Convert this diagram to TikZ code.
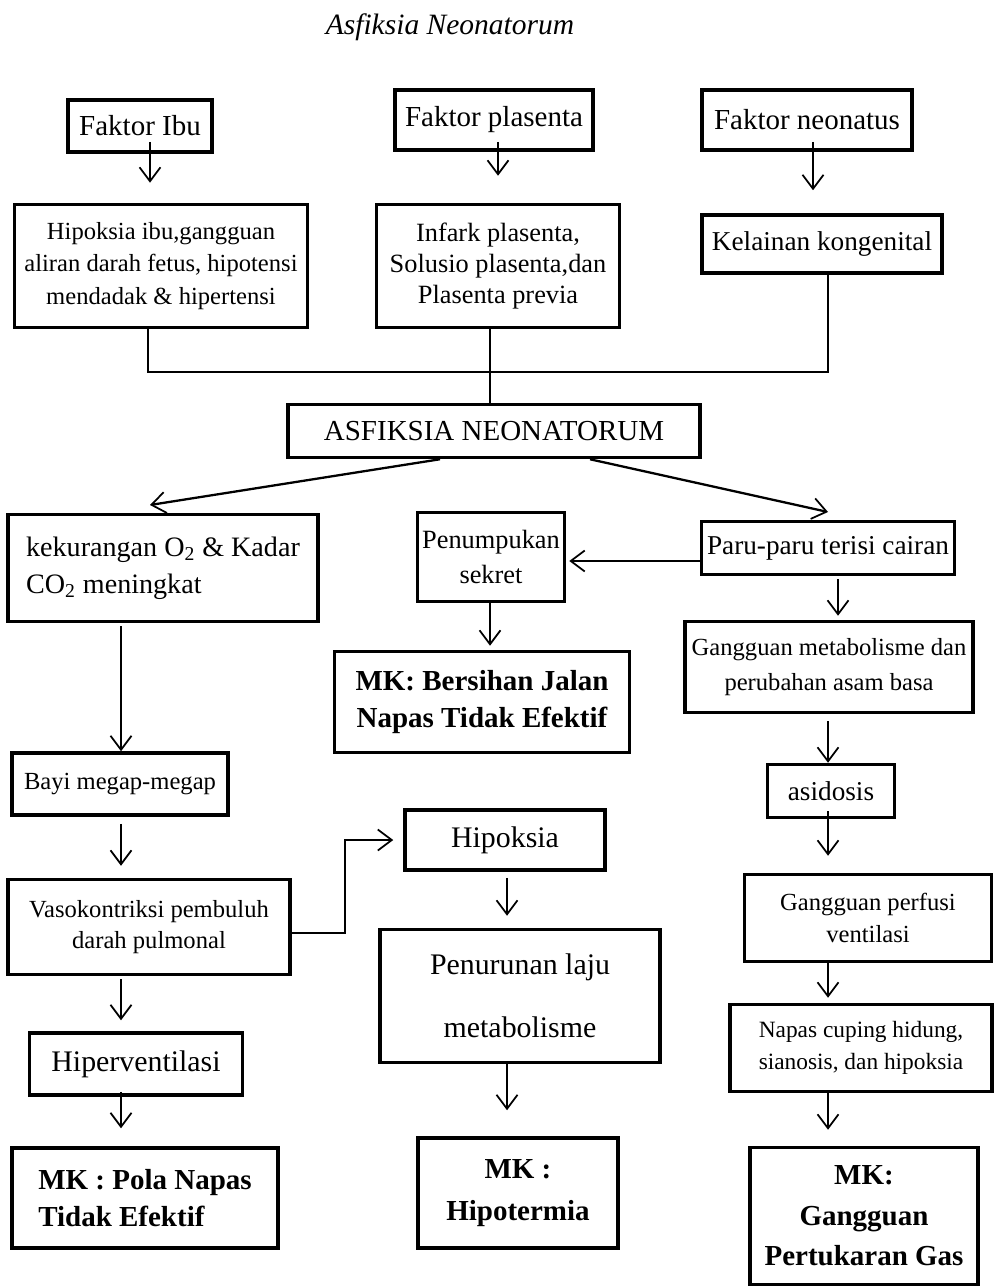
\documentclass[tikz,border=0pt]{standalone}
\usepackage{fontspec}
\setmainfont{Liberation Serif}
\usetikzlibrary{arrows.meta}
\newcommand{\fsz}[2]{\fontsize{#1}{#2}\selectfont}
\tikzset{
  box/.style={draw, line width=2pt, align=center, inner sep=2pt},
  wh/.style 2 args={minimum width=#1*0.02cm, minimum height=#2*0.02cm},
  con/.style={line width=1pt},
  arr/.style={line width=1pt, -{Straight Barb[length=2.8mm,width=4.2mm,line width=1pt]}}
}
\begin{document}
\begin{tikzpicture}[x=0.02cm,y=-0.02cm]
\useasboundingbox (0,0) rectangle (994,1287);
\node[font=\fsz{16.8}{20}\itshape] (judul) at (450,27) {Asfiksia Neonatorum};

\node[box,wh={144}{52},font=\fsz{16.5}{20}] (fibu) at (140,126) {Faktor Ibu};
\node[box,wh={198}{60},font=\fsz{16.5}{20}] (fpla) at (494,120) {Faktor plasenta};
\node[box,wh={210}{60},font=\fsz{16.5}{20}] (fneo) at (807,120) {Faktor neonatus};
\node[box,wh={293}{123},font=\fsz{14}{18.7}] (hibu) at (161,266) {Hipoksia ibu,gangguan\\aliran darah fetus, hipotensi\\mendadak \& hipertensi};
\node[box,wh={243}{123},font=\fsz{15}{17.5}] (infark) at (498,266) {Infark plasenta,\\Solusio plasenta,dan\\Plasenta previa};
\node[box,wh={240}{58},font=\fsz{15.5}{20}] (kel) at (822,244) {Kelainan kongenital};
\node[box,wh={412}{53},font=\fsz{16.5}{20}] (asf) at (494,431) {ASFIKSIA NEONATORUM};
\node[box,wh={310}{107},align=left,font=\fsz{16}{21}] (kek) at (163,568) {kekurangan O\textsubscript{2} \& Kadar\\CO\textsubscript{2} meningkat};
\node[box,wh={147}{89},font=\fsz{15}{20}] (pen) at (491,557) {Penumpukan\\sekret};
\node[box,wh={253}{53},font=\fsz{15.5}{20}] (paru) at (828,548) {Paru-paru terisi cairan};
\node[box,wh={295}{101},font=\fsz{16.5}{21.5}\bfseries] (bersih) at (482,702) {MK: Bersihan Jalan\\Napas Tidak Efektif};
\node[box,wh={288}{91},font=\fsz{14}{20}] (gmet) at (829,667) {Gangguan metabolisme dan\\perubahan asam basa};
\node[box,wh={216}{62},font=\fsz{14}{18}] (bayi) at (120,784) {Bayi megap-megap};
\node[box,wh={127}{53},font=\fsz{15.5}{20}] (asid) at (831,791) {asidosis};
\node[box,wh={200}{60},font=\fsz{17}{20}] (hip) at (505,840) {Hipoksia};
\node[box,wh={282}{95},font=\fsz{14}{18}] (vaso) at (149,927) {Vasokontriksi pembuluh\\darah pulmonal};
\node[box,wh={247}{87},font=\fsz{14}{18.7}] (perf) at (868,918) {Gangguan perfusi\\ventilasi};
\node[box,wh={280}{133},font=\fsz{17}{36}] (penur) at (520,996) {Penurunan laju\\metabolisme};
\node[box,wh={213}{62},font=\fsz{17}{20}] (hiperv) at (136,1064) {Hiperventilasi};
\node[box,wh={262}{87},font=\fsz{13.3}{18}] (napas) at (861,1048) {Napas cuping hidung,\\sianosis, dan hipoksia};
\node[box,wh={266}{100},align=left,font=\fsz{16.5}{21.5}\bfseries] (mkpola) at (145,1198) {MK : Pola Napas\\Tidak Efektif};
\node[box,wh={200}{110},font=\fsz{16.5}{24}\bfseries] (mkhipo) at (518,1193) {MK :\\Hipotermia};
\node[box,wh={228}{137},font=\fsz{16.5}{23}\bfseries] (mkgas) at (864,1216) {MK:\\Gangguan\\Pertukaran Gas};

\coordinate (xa) at (150,0);
\coordinate (xb) at (498,0);
\coordinate (xc) at (813,0);
\coordinate (xd) at (148,0);
\coordinate (xe) at (490,0);
\coordinate (xf) at (828,0);
\coordinate (xg) at (838,0);
\coordinate (xh) at (440,0);
\coordinate (xi) at (590,0);
\coordinate (xj) at (345,0);
\coordinate (xl) at (121,0);
\coordinate (xm) at (507,0);
\coordinate (bus) at (0,372);
\coordinate (ya) at (0,561);
\coordinate (yb) at (0,933);
\coordinate (ka) at (150,505);
\coordinate (pa) at (828,512);

\draw[arr,shorten <=-0.24cm,shorten >=0.4cm] (fibu.south -| xa) -- (hibu.north -| xa);
\draw[arr,shorten <=-0.2cm,shorten >=0.54cm] (fpla.south -| xb) -- (infark.north -| xb);
\draw[arr,shorten <=-0.2cm,shorten >=0.46cm] (fneo.south -| xc) -- (kel.north -| xc);
\draw[con] (hibu.south -| xd) -- (bus -| xd) -- (bus -| xf) -- (kel.south -| xf);
\draw[con] (infark.south -| xe) -- (asf.north -| xe);
\draw[arr,line width=1.3pt] (asf.south -| xh) -- (ka);
\draw[arr,line width=1.3pt] (asf.south -| xi) -- (pa);
\draw[arr,shorten >=0.06cm] (paru.west |- ya) -- (pen.east |- ya);
\draw[arr,shorten >=0.08cm] (pen.south -| xe) -- (bersih.north -| xe);
\draw[arr,shorten <=0.06cm,shorten >=0.08cm] (paru.south -| xg) -- (gmet.north -| xg);
\draw[arr,shorten <=0.06cm] (kek.south -| xl) -- (bayi.north -| xl);
\draw[arr,shorten <=0.14cm] (gmet.south -| xf) -- (asid.north -| xf);
\draw[arr,shorten <=0.14cm,shorten >=0.24cm] (bayi.south -| xl) -- (vaso.north -| xl);
\draw[arr,shorten <=-0.16cm,shorten >=0.34cm] (asid.south -| xf) -- (perf.north -| xf);
\draw[arr,shorten >=0.2cm] (vaso.east |- yb) -| (hip.west -| xj) -- (hip.west);
\draw[arr,shorten <=0.12cm,shorten >=0.24cm] (hip.south -| xm) -- (penur.north -| xm);
\draw[arr,shorten <=0.06cm,shorten >=0.22cm] (vaso.south -| xl) -- (hiperv.north -| xl);
\draw[arr,shorten >=0.1cm] (perf.south -| xf) -- (napas.north -| xf);
\draw[arr,shorten <=-0.1cm,shorten >=0.36cm] (hiperv.south -| xl) -- (mkpola.north -| xl);
\draw[arr,shorten >=0.52cm] (penur.south -| xm) -- (mkhipo.north -| xm);
\draw[arr,shorten >=0.32cm] (napas.south -| xf) -- (mkgas.north -| xf);
\end{tikzpicture}
\end{document}
